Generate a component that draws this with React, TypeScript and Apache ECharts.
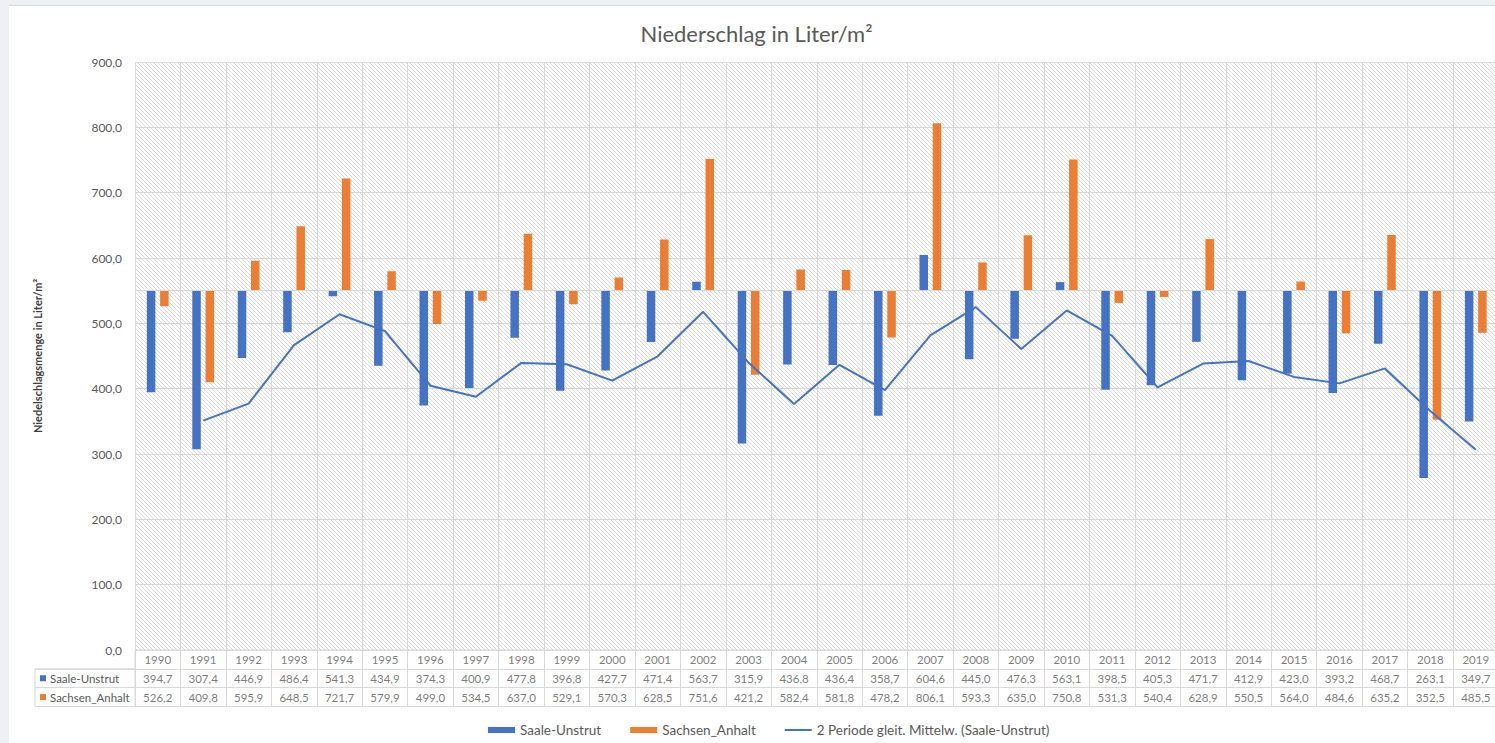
import React, { useEffect, useRef } from 'react';
import * as echarts from 'echarts';

const years = ['1990','1991','1992','1993','1994','1995','1996','1997','1998','1999','2000','2001','2002','2003','2004','2005','2006','2007','2008','2009','2010','2011','2012','2013','2014','2015','2016','2017','2018','2019'];
const saaleUnstrut = [394.7,307.4,446.9,486.4,541.3,434.9,374.3,400.9,477.8,396.8,427.7,471.4,563.7,315.9,436.8,436.4,358.7,604.6,445.0,476.3,563.1,398.5,405.3,471.7,412.9,423.0,393.2,468.7,263.1,349.7];
const sachsenAnhalt = [526.2,409.8,595.9,648.5,721.7,579.9,499.0,534.5,637.0,529.1,570.3,628.5,751.6,421.2,582.4,581.8,478.2,806.1,593.3,635.0,750.8,531.3,540.4,628.9,550.5,564.0,484.6,635.2,352.5,485.5];
const gleitMittel = [null,351.1,377.2,466.7,513.9,488.1,404.6,387.6,439.4,437.3,412.3,449.6,517.6,439.8,376.4,436.6,397.6,481.7,524.8,460.7,519.7,480.8,401.9,438.5,442.3,418.0,408.1,431.0,365.9,306.4];
const tableRows = ['Jahr', 'Saale-Unstrut', 'Sachsen_Anhalt'];
const seriesNames = ['Saale-Unstrut', 'Sachsen_Anhalt', '2 Periode gleit. Mittelw. (Saale-Unstrut)'];
const BAR_BASE = 550;

const BLUE = '#4472C4';
const ORANGE = '#ED7D31';
const FONT = 'Lato';
const TXT = '#595959';
const GRIDC = '#d9d9d9';

const fmt = (v: number) => v.toFixed(1).replace('.', ',');

const hatchSvg = "<svg xmlns='http://www.w3.org/2000/svg' width='4' height='4'><path d='M-1,-1L5,5M3,-1L5,1M-1,3L1,5' stroke='#dcdcdc' stroke-width='1'/></svg>";
const hatch = {
  image: 'data:image/svg+xml;charset=utf-8,' + encodeURIComponent(hatchSvg),
  repeat: 'repeat',
  imageWidth: 4,
  imageHeight: 4,
};

function barSeries(name: string, values: number[], color: string, offsetFrac: number) {
  return {
    name,
    type: 'custom',
    xAxisIndex: 0,
    yAxisIndex: 0,
    z: 3,
    itemStyle: { color },
    encode: { x: 0, y: 1 },
    data: values.map((v, i) => [i, v]),
    renderItem: (params: any, api: any) => {
      const i = api.value(0);
      const v = api.value(1);
      const band = api.size([1, 0])[0];
      const w = band * 0.187;
      const base = api.coord([i, BAR_BASE]);
      const top = api.coord([i, v]);
      const cx = base[0] + band * offsetFrac;
      return {
        type: 'rect',
        shape: { x: cx - w / 2, y: Math.min(base[1], top[1]), width: w, height: Math.abs(base[1] - top[1]) },
        style: { fill: color },
      };
    },
  };
}

export default function App() {
  const ref = useRef<HTMLDivElement>(null);
  useEffect(() => {
    if (!ref.current) return;
    const chart = echarts.init(ref.current, null, { renderer: 'svg' });
    const cells: any[] = [];
    years.forEach((y, i) => cells.push([i, 0, y]));
    saaleUnstrut.forEach((v, i) => cells.push([i, 1, fmt(v)]));
    sachsenAnhalt.forEach((v, i) => cells.push([i, 2, fmt(v)]));

    const option: any = {
      animation: false,
      backgroundColor: '#ffffff',
      textStyle: { fontFamily: FONT },
      title: {
        text: 'Niederschlag in Liter/m²',
        left: 'center',
        top: 11,
        padding: [5, 5, 5, 20],
        textStyle: { fontFamily: FONT, fontSize: 22, fontWeight: 'normal', color: TXT },
      },
      legend: {
        left: 474,
        top: 712,
        itemWidth: 27,
        itemHeight: 6,
        itemGap: 29,
        textStyle: { fontFamily: FONT, fontSize: 13.5, color: TXT },
        data: [
          { name: seriesNames[0], icon: 'rect' },
          { name: seriesNames[1], icon: 'rect' },
          { name: seriesNames[2], icon: 'path://M0,0H27V2H0Z' },
        ],
      },
      grid: [
        { left: 126, top: 56, width: 1363.5, height: 588, show: true, borderWidth: 0, backgroundColor: hatch },
        { left: 126, top: 644, width: 1363.5, height: 56.5, show: true, borderWidth: 1, borderColor: GRIDC, backgroundColor: '#ffffff' },
        { left: 26, top: 662.8, width: 100, height: 37.7, show: true, borderWidth: 1, borderColor: GRIDC, backgroundColor: '#ffffff' },
      ],
      xAxis: [
        {
          gridIndex: 0, type: 'category', data: years,
          axisLine: { show: false }, axisTick: { show: false }, axisLabel: { show: false },
          splitLine: { show: true, interval: 0, lineStyle: { color: GRIDC, width: 1 } },
        },
        {
          gridIndex: 1, type: 'category', data: years,
          axisLine: { show: false }, axisTick: { show: false }, axisLabel: { show: false },
          splitLine: { show: true, interval: 0, lineStyle: { color: GRIDC, width: 1 } },
        },
        { gridIndex: 2, type: 'value', min: 0, max: 1, show: false },
      ],
      yAxis: [
        {
          gridIndex: 0, type: 'value', min: 0, max: 900, interval: 100,
          name: 'Niedelschlagsmenge in Liter/m²',
          nameLocation: 'middle', nameGap: 92, nameRotate: 90,
          nameTextStyle: { fontFamily: FONT, fontSize: 11, fontWeight: 'bold', color: '#404040' },
          axisLine: { show: false }, axisTick: { show: false },
          axisLabel: { formatter: (v: number) => fmt(v), color: TXT, fontSize: 12, margin: 13, fontFamily: FONT },
          splitLine: { show: true, lineStyle: { color: GRIDC, width: 1 } },
        },
        {
          gridIndex: 1, type: 'category', data: tableRows, inverse: true,
          axisLine: { show: false }, axisTick: { show: false }, axisLabel: { show: false },
          splitLine: { show: true, interval: 0, lineStyle: { color: GRIDC, width: 1 } },
        },
        {
          gridIndex: 2, type: 'category', data: tableRows.slice(1), inverse: true,
          axisLine: { show: false }, axisTick: { show: false },
          splitLine: { show: true, interval: 0, lineStyle: { color: GRIDC, width: 1 } },
          axisLabel: {
            inside: true, margin: 5,
            formatter: (v: string) => (v === tableRows[1] ? '{b|}' : '{o|}') + '{t|' + v + '}',
            rich: {
              b: { width: 6, height: 6, backgroundColor: BLUE },
              o: { width: 6, height: 6, backgroundColor: ORANGE },
              t: { padding: [0, 0, 0, 4], fontSize: 11.5, color: TXT, fontFamily: FONT },
            },
          },
        },
      ],
      series: [
        {
          name: 'axis550', type: 'line', xAxisIndex: 0, yAxisIndex: 0, data: [], z: 1, silent: true,
          markLine: {
            silent: true, symbol: ['none', 'none'], label: { show: false },
            lineStyle: { color: GRIDC, type: 'solid', width: 1 },
            data: [{ yAxis: BAR_BASE }],
          },
        },
        barSeries(seriesNames[0], saaleUnstrut, BLUE, -0.146),
        barSeries(seriesNames[1], sachsenAnhalt, ORANGE, 0.146),
        {
          name: seriesNames[2], type: 'line', xAxisIndex: 0, yAxisIndex: 0, z: 5,
          data: gleitMittel, showSymbol: false, symbol: 'none',
          lineStyle: { color: BLUE, width: 2 }, itemStyle: { color: BLUE },
        },
        {
          name: 'table', type: 'scatter', xAxisIndex: 1, yAxisIndex: 1, data: cells,
          symbolSize: 1, itemStyle: { color: 'rgba(0,0,0,0)' }, silent: true,
          label: {
            show: true, position: 'inside', formatter: (p: any) => p.value[2],
            color: TXT, fontSize: 11.5, fontFamily: FONT,
          },
        },
      ],
    };
    chart.setOption(option);
    return () => chart.dispose();
  }, []);

  return (
    <div style={{ position: 'fixed', left: 0, top: 0, width: 1495, height: 743, overflow: 'hidden', background: '#eff0f4' }}>
      <div style={{ position: 'absolute', left: 9, top: 5, width: 1495, height: 738, borderTop: '1px solid #d6d6d6', background: '#fff' }}>
        <div ref={ref} style={{ width: 1495, height: 737 }} />
      </div>
    </div>
  );
}
